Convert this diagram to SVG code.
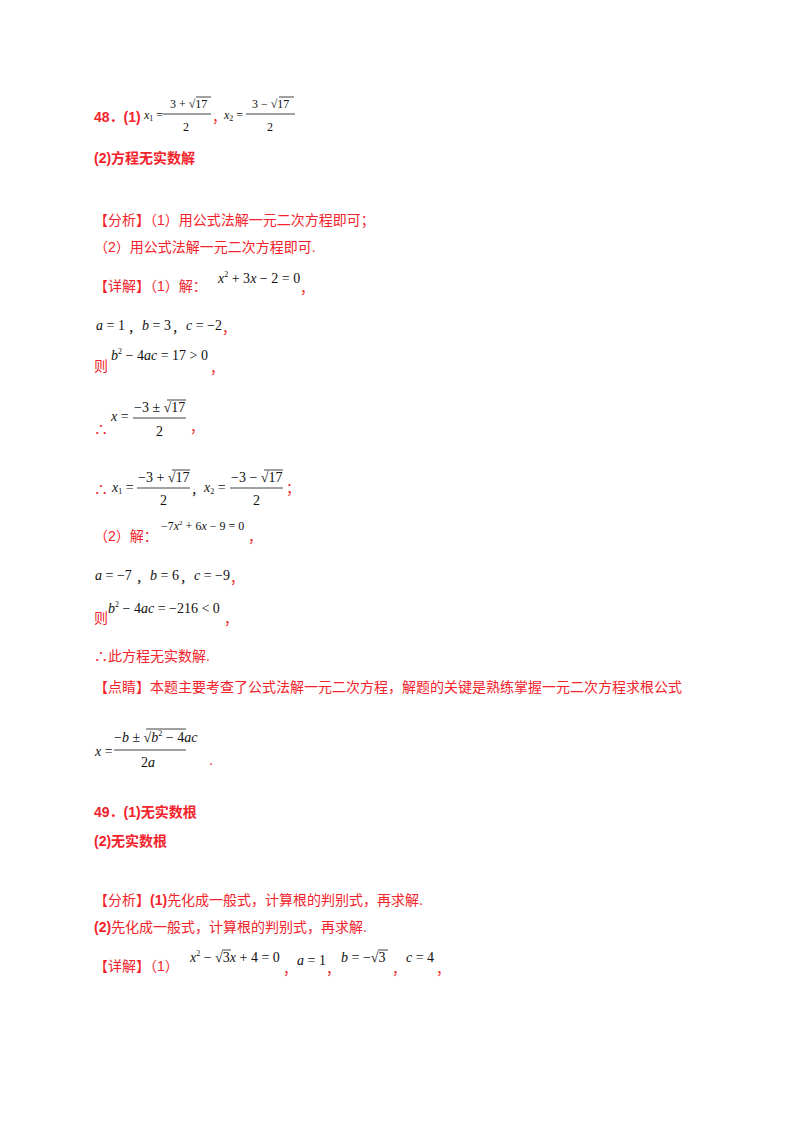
<svg xmlns="http://www.w3.org/2000/svg" width="800" height="1132" viewBox="0 0 800 1132">
<style>
.r{fill:#f2232b;font-family:"Liberation Sans","Noto Sans CJK SC",sans-serif;font-size:14px}
.b{font-weight:bold}
.m{fill:#111;font-family:"Liberation Serif",serif;font-size:14px}
.s{fill:#111;font-family:"Liberation Serif",serif;font-size:12px}
.k{fill:#111;font-family:"Noto Sans CJK SC",sans-serif;font-size:13px}
.i{font-style:italic}
.ln{stroke:#111;stroke-width:0.8}
</style>
<rect width="800" height="1132" fill="#fff"/>
<g id="q48">
<text x="94" y="122" class="r b">48．(1)</text>
<text x="144" y="119" class="s"><tspan class="i">x</tspan><tspan font-size="8" dy="2">1</tspan><tspan dy="-2"> =</tspan></text>
<text x="170" y="108" class="s">3 + √17</text><line x1="196" y1="97" x2="211" y2="97" class="ln"/>
<line x1="163" y1="114" x2="211" y2="114" class="ln"/>
<text x="183" y="131" class="s">2</text>
<text x="212" y="122" class="r">，</text>
<text x="224" y="119" class="s"><tspan class="i">x</tspan><tspan font-size="8" dy="2">2</tspan><tspan dy="-2"> =</tspan></text>
<text x="252" y="108" class="s">3 − √17</text><line x1="279" y1="97" x2="294" y2="97" class="ln"/>
<line x1="246" y1="114" x2="295" y2="114" class="ln"/>
<text x="267" y="131" class="s">2</text>
<text x="94" y="163" class="r b">(2)方程无实数解</text>
<text x="94" y="225" class="r">【分析】（1）用公式法解一元二次方程即可；</text>
<text x="94" y="252" class="r">（2）用公式法解一元二次方程即可.</text>
<text x="94" y="291" class="r">【详解】（1）解：</text>
<text x="218" y="283" class="m"><tspan class="i">x</tspan><tspan font-size="8" dy="-6">2</tspan><tspan dy="6"> + 3</tspan><tspan class="i">x</tspan> − 2 = 0</text>
<text x="300" y="293" class="r">，</text>
<text x="96" y="330" class="m"><tspan class="i">a</tspan> = 1</text>
<text x="128" y="332" class="k">，</text>
<text x="142" y="330" class="m"><tspan class="i">b</tspan> = 3</text>
<text x="172" y="332" class="k">，</text>
<text x="186" y="330" class="m"><tspan class="i">c</tspan> = −2</text>
<text x="222" y="333" class="r">，</text>
<text x="94" y="371" class="r">则</text>
<text x="111" y="360" class="m"><tspan class="i">b</tspan><tspan font-size="8" dy="-6">2</tspan><tspan dy="6"> − 4</tspan><tspan class="i">ac</tspan> = 17 &gt; 0</text>
<text x="210" y="373" class="r">，</text>
<text x="94" y="434" class="r">∴</text>
<text x="111" y="421" class="m"><tspan class="i">x</tspan> =</text>
<text x="134" y="412" class="m">−3 ± √17</text><line x1="167" y1="400" x2="186" y2="400" class="ln"/>
<line x1="133" y1="418" x2="186" y2="418" class="ln"/>
<text x="156" y="436" class="m">2</text>
<text x="190" y="432" class="r">，</text>
<text x="94" y="494" class="r">∴</text>
<text x="112" y="492" class="m"><tspan class="i">x</tspan><tspan font-size="8" dy="2">1</tspan><tspan dy="-2"> =</tspan></text>
<text x="138" y="482" class="m">−3 + √17</text><line x1="172" y1="470" x2="190" y2="470" class="ln"/>
<line x1="137" y1="488" x2="190" y2="488" class="ln"/>
<text x="160" y="505" class="m">2</text>
<text x="191" y="494" class="k">，</text>
<text x="204" y="492" class="m"><tspan class="i">x</tspan><tspan font-size="8" dy="2">2</tspan><tspan dy="-2"> =</tspan></text>
<text x="231" y="482" class="m">−3 − √17</text><line x1="264" y1="470" x2="283" y2="470" class="ln"/>
<line x1="230" y1="488" x2="283" y2="488" class="ln"/>
<text x="253" y="505" class="m">2</text>
<text x="286" y="493" class="r">；</text>
<text x="94" y="541" class="r">（2）解：</text>
<text x="161" y="530" class="s">−7<tspan class="i">x</tspan><tspan font-size="7" dy="-5">2</tspan><tspan dy="5"> + 6</tspan><tspan class="i">x</tspan> − 9 = 0</text>
<text x="248" y="542" class="r">，</text>
<text x="95" y="580" class="m"><tspan class="i">a</tspan> = −7</text>
<text x="136" y="582" class="k">，</text>
<text x="150" y="580" class="m"><tspan class="i">b</tspan> = 6</text>
<text x="180" y="582" class="k">，</text>
<text x="194" y="580" class="m"><tspan class="i">c</tspan> = −9</text>
<text x="230" y="583" class="r">，</text>
<text x="94" y="623" class="r">则</text>
<text x="108" y="613" class="m"><tspan class="i">b</tspan><tspan font-size="8" dy="-6">2</tspan><tspan dy="6"> − 4</tspan><tspan class="i">ac</tspan> = −216 &lt; 0</text>
<text x="224" y="624" class="r">，</text>
<text x="94" y="661" class="r">∴此方程无实数解.</text>
<text x="94" y="692" class="r">【点睛】本题主要考查了公式法解一元二次方程，解题的关键是熟练掌握一元二次方程求根公式</text>
<text x="95" y="756" class="m"><tspan class="i">x</tspan> =</text>
<text x="114" y="742" class="m">−<tspan class="i">b</tspan> ± √<tspan class="i">b</tspan><tspan font-size="8" dy="-6">2</tspan><tspan dy="6"> − 4</tspan><tspan class="i">ac</tspan></text>
<line x1="146" y1="729" x2="186" y2="729" class="ln"/>
<line x1="114" y1="750" x2="186" y2="750" class="ln"/>
<text x="141" y="767" class="m">2<tspan class="i">a</tspan></text>
<text x="209" y="765" class="r">.</text>
</g>
<g id="q49">
<text x="94" y="817" class="r b">49．(1)无实数根</text>
<text x="94" y="846" class="r b">(2)无实数根</text>
<text x="94" y="905" class="r"><tspan>【分析】</tspan><tspan class="b">(1)</tspan>先化成一般式，计算根的判别式，再求解.</text>
<text x="94" y="932" class="r"><tspan class="b">(2)</tspan>先化成一般式，计算根的判别式，再求解.</text>
<text x="94" y="971" class="r">【详解】（1）</text>
<text x="190" y="962" class="m"><tspan class="i">x</tspan><tspan font-size="8" dy="-6">2</tspan><tspan dy="6"> − √3</tspan><tspan class="i">x</tspan> + 4 = 0</text>
<line x1="222" y1="950" x2="231" y2="950" class="ln"/>
<text x="283" y="974" class="r">，</text>
<text x="297" y="965" class="m"><tspan class="i">a</tspan> = 1</text>
<text x="326" y="974" class="r">，</text>
<text x="341" y="962" class="m"><tspan class="i">b</tspan> = −√3</text>
<line x1="378" y1="950" x2="388" y2="950" class="ln"/>
<text x="392" y="974" class="r">，</text>
<text x="406" y="962" class="m"><tspan class="i">c</tspan> = 4</text>
<text x="436" y="974" class="r">，</text>
</g>
</svg>
